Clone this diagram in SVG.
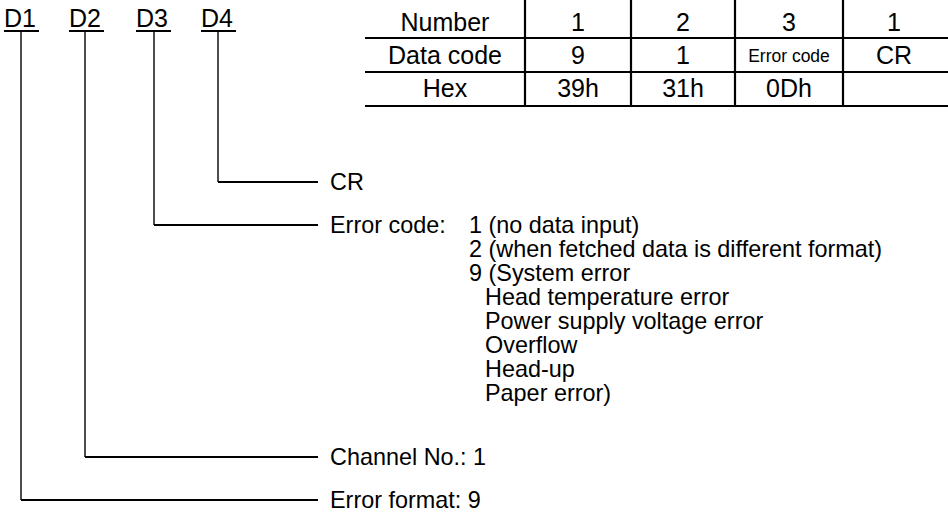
<svg xmlns="http://www.w3.org/2000/svg" width="948" height="517" viewBox="0 0 948 517">
<style>
text{font-family:"Liberation Sans",Arial,sans-serif;fill:#000;font-size:25px}
.c{text-anchor:middle}
.sm{font-size:17.5px}
.t{font-size:23.4px}
.tl{stroke:#000;stroke-width:2.2;fill:none}
.v{stroke:#222;stroke-width:1.6;fill:none}
.h{stroke:#000;stroke-width:2.2;fill:none}
</style>
<rect width="948" height="517" fill="#fff"/>
<g id="table">
<path class="tl" d="M365 38H948M365 72H948M365 106H948M525 0V106M631 0V106M735 0V106M843 0V106"/>
<text class="c" x="445" y="31">Number</text>
<text class="c" x="578" y="31">1</text>
<text class="c" x="683" y="31">2</text>
<text class="c" x="789" y="31">3</text>
<text class="c" x="894" y="31">1</text>
<text class="c" x="445" y="64">Data code</text>
<text class="c" x="578" y="64">9</text>
<text class="c" x="683" y="64">1</text>
<text class="c sm" x="789" y="62">Error code</text>
<text class="c" x="894" y="64">CR</text>
<text class="c" x="445" y="97">Hex</text>
<text class="c" x="578" y="97">39h</text>
<text class="c" x="683" y="97">31h</text>
<text class="c" x="789" y="97">0Dh</text>
</g>
<g id="d1"><text x="4" y="27">D1</text><path class="h" d="M4 31H39"/></g>
<g id="d2"><text x="69" y="27">D2</text><path class="h" d="M69 31H104"/></g>
<g id="d3"><text x="136" y="27">D3</text><path class="h" d="M136 31H171"/></g>
<g id="d4"><text x="201" y="27">D4</text><path class="h" d="M201 31H236"/></g>
<g id="connectors">
<path class="v" d="M218 32V182M154 32V225M85 32V457M21 32V500"/>
<path class="h" d="M218 182H318M154 225H318M85 457H318M21 500H318"/>
</g>
<g id="cr"><text class="t" x="330" y="190">CR</text></g>
<g id="errcode">
<text class="t" x="330" y="233">Error code:</text>
<text class="t" x="469" y="233">1 (no data input)</text>
<text class="t" x="469" y="257">2 (when fetched data is different format)</text>
<text class="t" x="469" y="281">9 (System error</text>
<text class="t" x="485" y="305">Head temperature error</text>
<text class="t" x="485" y="329">Power supply voltage error</text>
<text class="t" x="485" y="353">Overflow</text>
<text class="t" x="485" y="377">Head-up</text>
<text class="t" x="485" y="401">Paper error)</text>
</g>
<g id="channel"><text class="t" x="330" y="465">Channel No.: 1</text></g>
<g id="errformat"><text class="t" x="330" y="508">Error format: 9</text></g>
</svg>
